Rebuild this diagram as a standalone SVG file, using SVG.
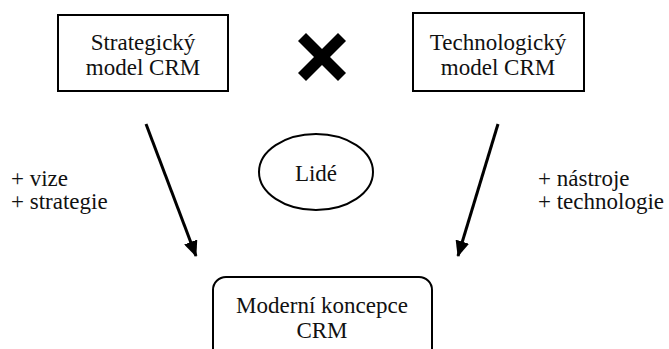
<svg xmlns="http://www.w3.org/2000/svg" width="669" height="349" viewBox="0 0 669 349" font-family="'Liberation Serif', 'Times New Roman', serif">
<defs>
<marker id="ah" markerUnits="userSpaceOnUse" markerWidth="16" markerHeight="14" refX="15" refY="7" orient="auto">
<path d="M0,0 L16,7 L0,14 Z" fill="#000"/>
</marker>
</defs>
<rect width="669" height="349" fill="#fff"/>
<g id="strategicky">
<rect x="58" y="15" width="170" height="76" fill="#fff" stroke="#000" stroke-width="2"/>
<text x="143" y="50" font-family="Times New Roman" font-size="23" fill="#111" text-anchor="middle">Strategický</text>
<text x="143" y="75" font-family="Times New Roman" font-size="23" fill="#111" text-anchor="middle">model CRM</text>
</g>
<g id="technologicky">
<rect x="413" y="13" width="171" height="78" fill="#fff" stroke="#000" stroke-width="2"/>
<text x="498" y="50" font-family="Times New Roman" font-size="23" fill="#111" text-anchor="middle">Technologický</text>
<text x="498" y="75" font-family="Times New Roman" font-size="23" fill="#111" text-anchor="middle">model CRM</text>
</g>
<g id="krat">
<path d="M298,41 L306,33 L322,49 L338,33 L346,41 L330,57 L346,73 L338,81 L322,65 L306,81 L298,73 L314,57 Z" fill="#000"/>
</g>
<g id="lide">
<ellipse cx="316" cy="172" rx="57" ry="38" fill="#fff" stroke="#000" stroke-width="2"/>
<text x="316" y="181" font-family="Times New Roman" font-size="23" fill="#111" text-anchor="middle">Lidé</text>
</g>
<g id="moderni">
<rect x="213" y="277" width="219" height="90" rx="13" fill="#fff" stroke="#000" stroke-width="2"/>
<text x="322" y="313" font-family="Times New Roman" font-size="23" fill="#111" text-anchor="middle">Moderní koncepce</text>
<text x="322" y="338" font-family="Times New Roman" font-size="23" fill="#111" text-anchor="middle">CRM</text>
</g>
<g id="labels-left">
<text x="11" y="186" font-family="Times New Roman" font-size="23" fill="#111">+ vize</text>
<text x="11" y="209" font-family="Times New Roman" font-size="23" fill="#111">+ strategie</text>
</g>
<g id="labels-right">
<text x="538" y="186" font-family="Times New Roman" font-size="23" fill="#111">+ nástroje</text>
<text x="538" y="209" font-family="Times New Roman" font-size="23" fill="#111">+ technologie</text>
</g>
<g id="connectors" stroke="#000" stroke-width="3" fill="none">
<line x1="146" y1="124" x2="196" y2="256" marker-end="url(#ah)"/>
<line x1="498" y1="124" x2="458" y2="256" marker-end="url(#ah)"/>
</g>
</svg>
